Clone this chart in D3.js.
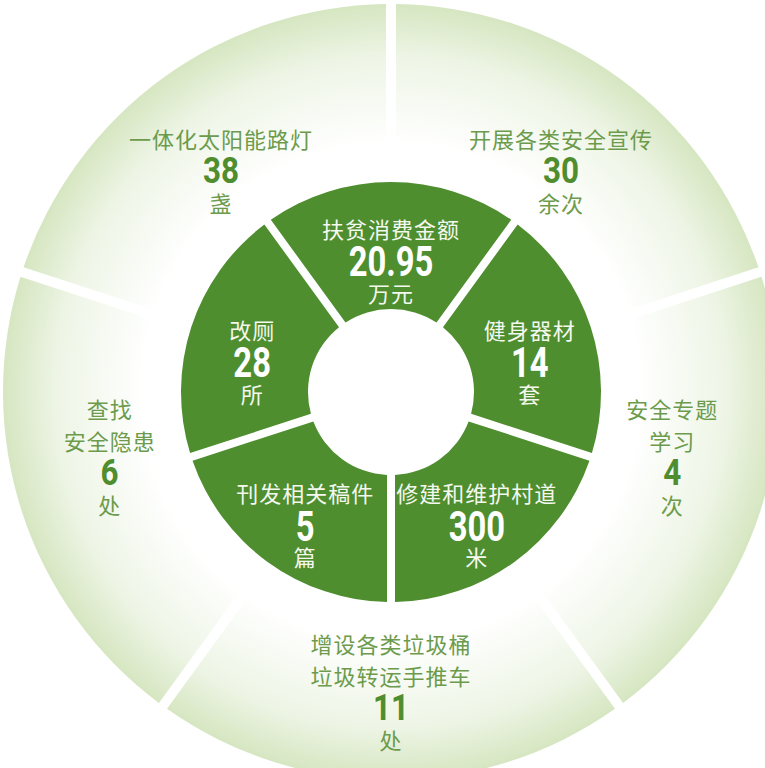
<!DOCTYPE html>
<html>
<head>
<meta charset="utf-8">
<script src="https://cdn.jsdelivr.net/npm/d3@7"></script>
<style>
  body { margin: 0; background: #fff; }
  text { font-family: "Noto Sans CJK SC", "Noto Sans", sans-serif; }
</style>
</head>
<body>
<div id="chart"></div>
<script>
const WIDTH = 765;
const HEIGHT = 768;
const CX = 391;
const CY = 392;

// inner ring, clockwise from top
const innerLabels = ["扶贫消费金额", "健身器材", "修建和维护村道", "刊发相关稿件", "改厕"];
const innerValues = [20.95, 14, 300, 5, 28];
const innerUnits = ["万元", "套", "米", "篇", "所"];

// outer ring, clockwise from top
const outerLabels = [["开展各类安全宣传"], ["安全专题", "学习"], ["增设各类垃圾桶", "垃圾转运手推车"], ["查找", "安全隐患"], ["一体化太阳能路灯"]];
const outerValues = [30, 4, 11, 6, 38];
const outerUnits = ["余次", "次", "处", "处", "盏"];

const DARK = "#4e8e2f";

const svg = d3.select("#chart")
    .append("svg")
    .attr("width", WIDTH)
    .attr("height", HEIGHT);

const g = svg.append("g").attr("transform", `translate(${CX},${CY})`);

// gradient lives in the group's space (centre = 0,0)
const grad = svg.append("defs").append("radialGradient")
    .attr("id", "outerGrad")
    .attr("gradientUnits", "userSpaceOnUse")
    .attr("cx", 0).attr("cy", 0).attr("r", 388);
grad.append("stop").attr("offset", "0.64").attr("stop-color", "#ffffff");
grad.append("stop").attr("offset", "0.86").attr("stop-color", "#eef5e6");
grad.append("stop").attr("offset", "1").attr("stop-color", "#d6e6c1");

// === OUTER RING ===
const outerPie = d3.pie().value(1).sort(null)
    .startAngle(0).endAngle(2 * Math.PI);
const outerArc = d3.arc().innerRadius(214).outerRadius(388)
    .padRadius(100).padAngle(0.1);

g.selectAll(".outer")
    .data(outerPie(outerLabels))
    .enter()
    .append("path")
    .attr("class", "outer")
    .attr("d", outerArc)
    .attr("fill", "url(#outerGrad)");

// === INNER RING ===
const innerPie = d3.pie().value(1).sort(null)
    .startAngle(-Math.PI / 5).endAngle(2 * Math.PI - Math.PI / 5);
const innerArc = d3.arc().innerRadius(83).outerRadius(210)
    .padRadius(100).padAngle(0.08);

g.selectAll(".inner")
    .data(innerPie(innerLabels))
    .enter()
    .append("path")
    .attr("class", "inner")
    .attr("d", innerArc)
    .attr("fill", DARK);

// text block centred on (x, y); steps = gaps between line centres
function drawBlock(x, y, lines, steps, colors) {
    let cy = y - d3.sum(steps) / 2;
    lines.forEach((ln, i) => {
        if (i > 0) cy += steps[i - 1];
        if (ln.kind === "num") {
            g.append("text")
                .attr("transform", `translate(${x},${cy}) scale(${ln.sx},1)`)
                .attr("text-anchor", "middle")
                .attr("dominant-baseline", "central")
                .style("font-family", "Roboto, 'DejaVu Sans', sans-serif")
                .style("font-weight", 700)
                .style("font-size", ln.size + "px")
                .attr("fill", colors.num)
                .text(ln.t);
        } else {
            g.append("text")
                .attr("x", x).attr("y", cy)
                .attr("text-anchor", "middle")
                .attr("dominant-baseline", "central")
                .style("font-size", "22px")
                .style("letter-spacing", "1px")
                .attr("fill", colors.txt)
                .text(ln.t);
        }
    });
}

// inner labels
const innerLabelArc = d3.arc().innerRadius(146).outerRadius(146);
innerPie(innerLabels).forEach((d, i) => {
    const [x, y] = innerLabelArc.centroid(d);
    drawBlock(x, y + 14, [
        { t: innerLabels[i] },
        { t: String(innerValues[i]), kind: "num", size: 42, sx: 0.78 },
        { t: innerUnits[i] }
    ], [34, 30], { txt: "#f4f8ef", num: "#ffffff" });
});

// outer labels: side blocks sit a little higher than the ring midline
outerPie(outerLabels).forEach((d, i) => {
    const a = (d.startAngle + d.endAngle) / 2;
    const x = (285 + 12 * Math.sin(a) ** 2) * Math.sin(a);
    const y = 20 - 279 * Math.cos(a) - 47 * Math.sin(a) ** 2;
    const lines = outerLabels[i].map(t => ({ t }));
    const steps = lines.slice(1).map(() => 32);
    lines.push({ t: String(outerValues[i]), kind: "num", size: 37, sx: 0.85 });
    steps.push(32);
    lines.push({ t: outerUnits[i] });
    steps.push(32);
    drawBlock(x, y, lines, steps, { txt: "#6c9b4c", num: "#4f8d2e" });
});
</script>
</body>
</html>
